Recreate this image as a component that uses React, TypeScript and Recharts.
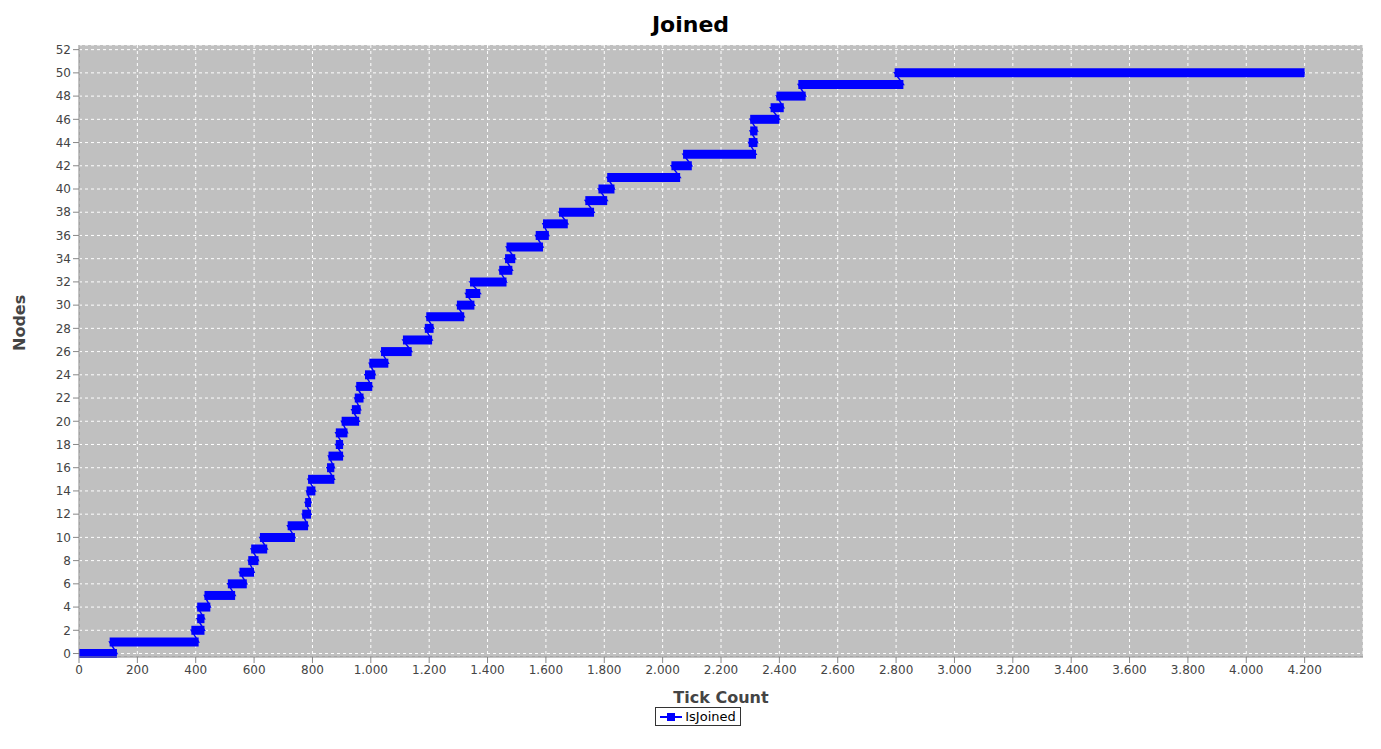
import { ComposedChart, Line, XAxis, YAxis, CartesianGrid, Legend } from "recharts";

// plateaus: level, start tick, end tick
const levels = [0, 1, 2, 3, 4, 5, 6, 7, 8, 9, 10, 11, 12, 13, 14, 15, 16, 17, 18, 19, 20, 21, 22, 23, 24, 25, 26, 27, 28, 29, 30, 31, 32, 33, 34, 35, 36, 37, 38, 39, 40, 41, 42, 43, 44, 45, 46, 47, 48, 49, 50];
const starts = [0, 105, 385, 405, 405, 430, 510, 550, 580, 590, 620, 715, 765, 775, 780, 785, 850, 855, 880, 880, 900, 935, 945, 950, 980, 995, 1035, 1110, 1185, 1190, 1295, 1325, 1340, 1440, 1460, 1465, 1565, 1590, 1645, 1735, 1780, 1810, 2030, 2070, 2295, 2300, 2300, 2370, 2390, 2465, 2795];
const ends = [130, 410, 430, 430, 450, 535, 575, 600, 615, 645, 740, 785, 795, 795, 810, 875, 875, 905, 905, 920, 960, 965, 975, 1005, 1015, 1060, 1140, 1210, 1215, 1320, 1355, 1375, 1465, 1485, 1495, 1590, 1610, 1675, 1765, 1810, 1835, 2060, 2100, 2320, 2325, 2325, 2400, 2415, 2490, 2825, 4200];
const xTicks = Array.from({ length: 22 }, (_, i) => i * 200);
const yTicks = Array.from({ length: 27 }, (_, i) => i * 2);

const BLUE = "#0000ff";
const FONT = "'DejaVu Sans', sans-serif";

const stepData = levels.flatMap((y, i) => [
  { x: starts[i], y },
  { x: ends[i], y },
]);

function LegendBox() {
  return (
    <div style={{ display: "flex", justifyContent: "center" }}>
      <div style={{ border: "1px solid #333", padding: "1px 4px", display: "flex", alignItems: "center", fontFamily: FONT, fontSize: 13 }}>
        <svg width={22} height={10}>
          <line x1={0} y1={5} x2={22} y2={5} stroke={BLUE} strokeWidth={2} />
          <rect x={7} y={1} width={8} height={8} fill={BLUE} />
        </svg>
        <span style={{ marginLeft: 3 }}>IsJoined</span>
      </div>
    </div>
  );
}

export default function App() {
  return (
    <div style={{ position: "relative", width: 1365, height: 741, background: "#fff" }}>
      <div style={{ position: "absolute", top: 4, width: "100%", textAlign: "center", fontFamily: FONT, fontWeight: "bold", fontSize: 22 }}>
        Joined
      </div>
      <ComposedChart width={1365} height={741} margin={{ top: 37, right: 10, bottom: 0, left: 25 }}>
        <CartesianGrid fill="#c0c0c0" stroke="#ffffff" strokeDasharray="3 3" />
        <XAxis
          type="number"
          dataKey="x"
          domain={[0, 4400]}
          ticks={xTicks}
          tickFormatter={(v) => v.toLocaleString("de-DE")}
          tick={{ fontSize: 12, fill: "#444", fontFamily: FONT }}
          stroke="#888"
          height={50}
          allowDuplicatedCategory={false}
          label={{ value: "Tick Count", position: "insideBottom", offset: 4, fontSize: 16, fontWeight: "bold", fill: "#444", fontFamily: FONT }}
        />
        <YAxis
          type="number"
          domain={[-0.3, 52.4]}
          ticks={yTicks}
          tick={{ fontSize: 12, fill: "#444", fontFamily: FONT }}
          stroke="#888"
          width={46}
          interval={0}
          label={{ value: "Nodes", angle: -90, position: "insideLeft", offset: 0, dx: -14, fontSize: 16, fontWeight: "bold", fill: "#444", fontFamily: FONT }}
        />
        <Legend verticalAlign="bottom" height={42} content={() => <LegendBox />} />
        <Line data={stepData} dataKey="y" stroke={BLUE} strokeWidth={1.5} dot={false} isAnimationActive={false} legendType="none" />
        {levels.map((y, i) => (
          <Line
            key={i}
            data={[{ x: starts[i], y }, { x: ends[i], y }]}
            dataKey="y"
            stroke={BLUE}
            strokeWidth={9}
            dot={false}
            isAnimationActive={false}
            legendType="none"
          />
        ))}
      </ComposedChart>
    </div>
  );
}
